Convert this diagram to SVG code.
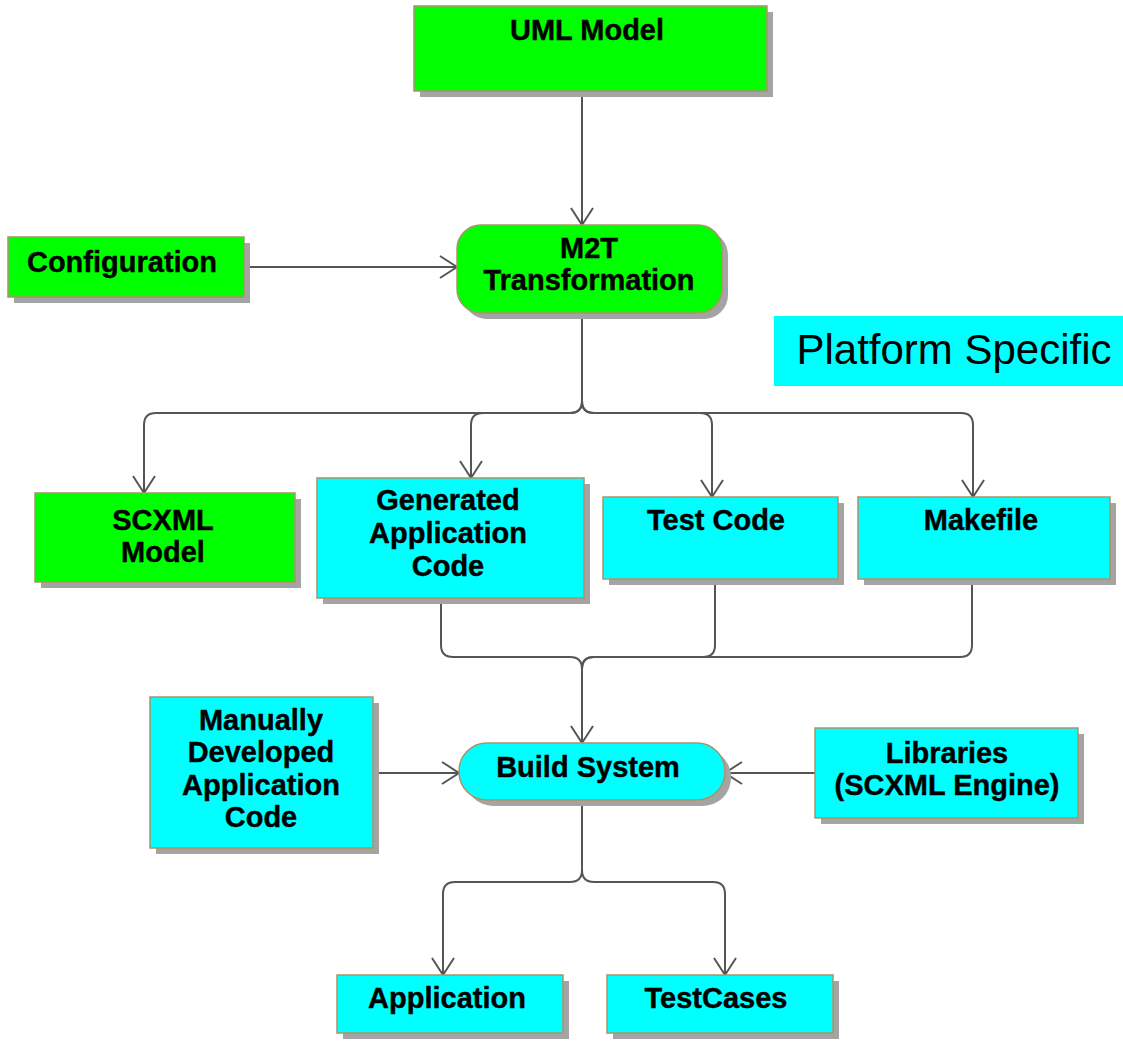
<svg xmlns="http://www.w3.org/2000/svg" width="1123" height="1043" viewBox="0 0 1123 1043">
  <defs>
    <marker id="open-arrow" markerUnits="userSpaceOnUse" markerWidth="24" markerHeight="28" refX="19" refY="13" orient="auto">
      <path d="M2,2 L19,13 L2,24" fill="none" stroke="#555" stroke-width="2"/>
    </marker>
  </defs>
  <style>
    .shadow { fill: #a4a4a4; }
    .green { fill: #00ff00; stroke: #a8946a; stroke-width: 1.5; }
    .cyan { fill: #00ffff; stroke: #a8946a; stroke-width: 1.5; }
    .label { font-family: "Liberation Sans", Arial, sans-serif; font-weight: bold; font-size: 29px; fill: #000; stroke: #000; stroke-width: 0.4; text-anchor: middle; }
    .wire { fill: none; stroke: #555; stroke-width: 2; }
    .arrow { marker-end: url(#open-arrow); }
  </style>

  <rect width="1123" height="1043" fill="#fff"/>

  <!-- connectors -->
  <g id="connectors">
    <path class="wire arrow" d="M582 91 V225"/>
    <path class="wire arrow" d="M244 267 H457"/>
    <path class="wire" d="M582 313 V401"/>
    <path class="wire arrow" d="M582 401 Q582 413 570 413 H156 Q144 413 144 425 V493"/>
    <path class="wire arrow" d="M582 401 Q582 413 570 413 H483 Q471 413 471 425 V478"/>
    <path class="wire arrow" d="M582 401 Q582 413 594 413 H700 Q712 413 712 425 V497"/>
    <path class="wire arrow" d="M582 401 Q582 413 594 413 H961 Q973 413 973 425 V497"/>
    <path class="wire arrow" d="M441 598 V645 Q441 657 453 657 H570 Q582 657 582 669 V743"/>
    <path class="wire" d="M715 579 V645 Q715 657 703 657 H594 Q582 657 582 669"/>
    <path class="wire" d="M972 579 V645 Q972 657 960 657 H594 Q582 657 582 669"/>
    <path class="wire arrow" d="M379 773 H459"/>
    <path class="wire arrow" d="M815 773 H725"/>
    <path class="wire" d="M582 800 V870"/>
    <path class="wire arrow" d="M582 870 Q582 882 570 882 H455 Q443 882 443 894 V975"/>
    <path class="wire arrow" d="M582 870 Q582 882 594 882 H713 Q725 882 725 894 V975"/>
  </g>

  <g id="uml-model">
    <rect class="shadow" x="420" y="12" width="353" height="85"/>
    <rect class="green" x="414" y="6" width="353" height="85"/>
    <text class="label" x="587" y="40">UML Model</text>
  </g>

  <g id="configuration">
    <rect class="shadow" x="14" y="243" width="236" height="60"/>
    <rect class="green" x="8" y="237" width="236" height="60"/>
    <text class="label" x="122" y="272">Configuration</text>
  </g>

  <g id="m2t-transformation">
    <rect class="shadow" x="463" y="231" width="265" height="88" rx="24"/>
    <rect class="green" x="457" y="225" width="265" height="88" rx="24"/>
    <text class="label" x="589" y="258">M2T</text>
    <text class="label" x="589" y="290">Transformation</text>
  </g>

  <g id="platform-specific">
    <rect x="774" y="316" width="349" height="70" fill="#00ffff"/>
    <text x="954" y="364" font-family="Liberation Sans, Arial, sans-serif" font-size="42" text-anchor="middle" fill="#000">Platform Specific</text>
  </g>

  <g id="scxml-model">
    <rect class="shadow" x="41" y="499" width="260" height="89"/>
    <rect class="green" x="35" y="493" width="260" height="89"/>
    <text class="label" x="163" y="530">SCXML</text>
    <text class="label" x="163" y="562">Model</text>
  </g>

  <g id="generated-application-code">
    <rect class="shadow" x="323" y="484" width="267" height="120"/>
    <rect class="cyan" x="317" y="478" width="267" height="120"/>
    <text class="label" x="448" y="510">Generated</text>
    <text class="label" x="448" y="543">Application</text>
    <text class="label" x="448" y="576">Code</text>
  </g>

  <g id="test-code">
    <rect class="shadow" x="609" y="503" width="235" height="82"/>
    <rect class="cyan" x="603" y="497" width="235" height="82"/>
    <text class="label" x="716" y="530">Test Code</text>
  </g>

  <g id="makefile">
    <rect class="shadow" x="864" y="503" width="252" height="82"/>
    <rect class="cyan" x="858" y="497" width="252" height="82"/>
    <text class="label" x="981" y="530">Makefile</text>
  </g>

  <g id="manually-developed-code">
    <rect class="shadow" x="156" y="703" width="223" height="151"/>
    <rect class="cyan" x="150" y="697" width="223" height="151"/>
    <text class="label" x="261" y="730">Manually</text>
    <text class="label" x="261" y="762">Developed</text>
    <text class="label" x="261" y="795">Application</text>
    <text class="label" x="261" y="827">Code</text>
  </g>

  <g id="build-system">
    <rect class="shadow" x="465" y="749" width="266" height="57" rx="28"/>
    <rect class="cyan" x="459" y="743" width="266" height="57" rx="28"/>
    <text class="label" x="588" y="777">Build System</text>
  </g>

  <g id="libraries">
    <rect class="shadow" x="821" y="734" width="263" height="90"/>
    <rect class="cyan" x="815" y="728" width="263" height="90"/>
    <text class="label" x="947" y="763">Libraries</text>
    <text class="label" x="947" y="795">(SCXML Engine)</text>
  </g>

  <g id="application">
    <rect class="shadow" x="343" y="981" width="226" height="58"/>
    <rect class="cyan" x="337" y="975" width="226" height="58"/>
    <text class="label" x="447" y="1008">Application</text>
  </g>

  <g id="testcases">
    <rect class="shadow" x="613" y="981" width="226" height="58"/>
    <rect class="cyan" x="607" y="975" width="226" height="58"/>
    <text class="label" x="716" y="1008">TestCases</text>
  </g>
</svg>
